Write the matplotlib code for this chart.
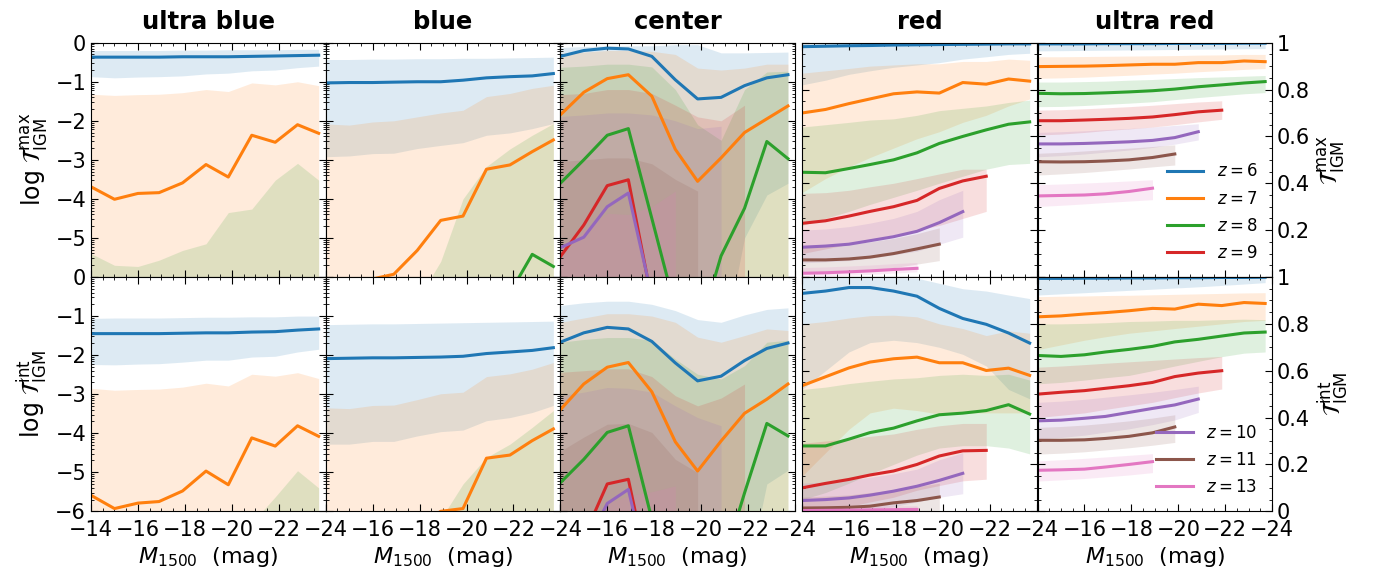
import numpy as np
import matplotlib
matplotlib.use("Agg")
import matplotlib.pyplot as plt
from matplotlib.ticker import FixedLocator, MultipleLocator, FuncFormatter

# magnitude bins (M1500)
M = [-14, -15, -16, -16.9, -17.9, -18.9, -19.85, -20.85, -21.85, -22.8, -23.7]
redshifts = [6, 7, 8, 9, 10, 11, 13]
colors = {6: "tab:blue", 7: "tab:orange", 8: "tab:green", 9: "tab:red",
          10: "tab:purple", 11: "tab:brown", 13: "tab:pink"}
titles = ["ultra blue", "blue", "center", "red", "ultra red"]

# each entry: (median, lower, upper)
ultra_blue_max = {
    6: ([-0.37, -0.37, -0.37, -0.37, -0.36, -0.36, -0.36, -0.35, -0.34, -0.33, -0.32],
        [-0.87, -0.9, -0.88, -0.87, -0.85, -0.8, -0.78, -0.72, -0.7, -0.64, -0.6],
        [-0.2, -0.2, -0.2, -0.2, -0.19, -0.19, -0.18, -0.18, -0.18, -0.17, -0.17]),
    7: ([-3.69, -4.01, -3.86, -3.84, -3.59, -3.12, -3.44, -2.37, -2.55, -2.1, -2.32],
        [-8] * 11,
        [-1.32, -1.35, -1.33, -1.32, -1.28, -1.2, -1.25, -1.03, -1.08, -1.0, -1.1]),
    8: ([-8] * 11, [-8] * 11,
        [-5.4, -5.7, -5.73, -5.57, -5.32, -5.15, -4.35, -4.26, -3.52, -3.09, -3.52]),
}
ultra_blue_int = {
    6: ([-1.45, -1.45, -1.45, -1.45, -1.44, -1.43, -1.43, -1.41, -1.40, -1.36, -1.33],
        [-2.24, -2.25, -2.23, -2.22, -2.18, -2.13, -2.13, -2.05, -2.03, -1.92, -1.85],
        [-1.06, -1.05, -1.05, -1.05, -1.04, -1.03, -1.03, -1.02, -1.02, -1.0, -1.0]),
    7: ([-5.59, -5.93, -5.79, -5.75, -5.48, -4.97, -5.32, -4.12, -4.33, -3.81, -4.08],
        [-8] * 11,
        [-2.85, -2.9, -2.88, -2.87, -2.82, -2.72, -2.79, -2.49, -2.54, -2.45, -2.6]),
    8: ([-8] * 11, [-8] * 11,
        [-7, -7, -7, -7, -7, -7, -7, -6.3, -5.63, -4.96, -5.4]),
}
blue_max = {
    6: ([-1.03, -1.02, -1.02, -1.01, -1.0, -1.0, -0.96, -0.9, -0.87, -0.85, -0.79],
        [-2.92, -2.9, -2.84, -2.83, -2.71, -2.63, -2.56, -2.37, -2.31, -2.2, -2.07],
        [-0.43, -0.43, -0.42, -0.42, -0.41, -0.41, -0.4, -0.4, -0.39, -0.38, -0.37]),
    7: ([-6.4, -6.3, -6.05, -5.93, -5.32, -4.55, -4.44, -3.24, -3.13, -2.79, -2.49],
        [-8] * 11,
        [-2.08, -2.11, -2.03, -2.0, -1.9, -1.8, -1.73, -1.38, -1.3, -1.17, -1.09]),
    8: ([-8, -8, -8, -8, -8, -8, -8, -7.5, -6.41, -5.42, -5.73],
        [-8] * 11,
        [-6.8, -6.8, -6.8, -6.8, -6.6, -5.6, -4.0, -3.17, -2.72, -2.37, -2.07]),
}
blue_int = {
    6: ([-2.09, -2.08, -2.07, -2.07, -2.06, -2.05, -2.03, -1.96, -1.92, -1.88, -1.81],
        [-4.28, -4.28, -4.21, -4.21, -4.07, -3.96, -3.92, -3.68, -3.6, -3.47, -3.29],
        [-1.22, -1.21, -1.2, -1.2, -1.19, -1.18, -1.17, -1.16, -1.15, -1.14, -1.13]),
    7: ([-7, -7, -7, -6.8, -6.4, -6.0, -5.93, -4.64, -4.56, -4.19, -3.89],
        [-8] * 11,
        [-3.35, -3.37, -3.29, -3.28, -3.14, -2.99, -2.95, -2.55, -2.48, -2.36, -2.19]),
    8: ([-8] * 11, [-8] * 11,
        [-7, -7, -7, -7, -7, -6.2, -5.3, -4.62, -4.28, -3.85, -3.42]),
}
center_max = {
    6: ([-0.35, -0.2, -0.14, -0.16, -0.35, -0.95, -1.44, -1.40, -1.10, -0.90, -0.82],
        [-8, -8, -8, -8, -8, -8, -8, -8, -5.0, -3.9, -3.6],
        [-0.12, -0.1, -0.08, -0.08, -0.08, -0.05, -0.05, -0.26, -0.26, -0.25, -0.24]),
    7: ([-1.85, -1.27, -0.92, -0.82, -1.37, -2.73, -3.55, -2.95, -2.3, -1.95, -1.62],
        [-8] * 11,
        [-0.27, -0.24, -0.2, -0.2, -0.22, -0.3, -0.65, -0.7, -0.65, -0.55, -0.55]),
    8: ([-3.6, -3.0, -2.37, -2.2, -4.5, -6.8, -7.5, -5.46, -4.24, -2.53, -2.97],
        [-8] * 11,
        [-0.63, -0.6, -0.55, -0.55, -0.62, -1.2, -2.1, -2.5, -1.2, -0.75, -0.73]),
    9: ([-5.48, -4.67, -3.66, -3.51, -6.6, -8, -8, -8, -8],
        [-8] * 9,
        [-1.33, -1.3, -1.2, -1.2, -1.3, -1.6, -1.9, -2.0, -1.6]),
    10: ([-5.25, -4.98, -4.2, -3.85, -6.5, -8, -8, -8],
         [-8] * 8,
         [-1.89, -1.85, -1.8, -1.8, -1.85, -2.0, -2.2, -2.14]),
    11: ([-8] * 7, [-8] * 7,
         [-3.04, -3.0, -2.95, -2.95, -3.1, -3.5, -3.8]),
    13: ([-8] * 6, [-8] * 6,
         [-5.5, -4.8, -4.37, -4.4, -4.2, -3.8]),
}
center_int = {
    6: ([-1.67, -1.43, -1.29, -1.33, -1.65, -2.2, -2.66, -2.54, -2.14, -1.83, -1.69],
        [-8, -8, -8, -8, -8, -8, -8, -8, -8, -5.3, -4.95],
        [-0.73, -0.66, -0.62, -0.62, -0.7, -0.86, -1.09, -1.16, -0.97, -0.83, -0.79]),
    7: ([-3.4, -2.74, -2.31, -2.19, -2.94, -4.22, -4.97, -4.2, -3.49, -3.13, -2.74],
        [-8] * 11,
        [-1.16, -1.05, -0.94, -0.94, -1.0, -1.16, -1.54, -1.67, -1.5, -1.33, -1.37]),
    8: ([-5.27, -4.67, -3.98, -3.81, -6.2, -7.5, -8, -7.5, -5.53, -3.75, -4.07],
        [-8] * 11,
        [-1.67, -1.6, -1.55, -1.55, -1.62, -2.1, -2.49, -2.61, -2.27, -1.67, -1.62]),
    9: ([-8, -6.66, -5.3, -5.18, -8, -8, -8, -8, -8],
        [-8] * 9,
        [-2.44, -2.4, -2.35, -2.35, -2.55, -3.04, -3.3, -3.1, -2.74]),
    10: ([-8, -7, -5.8, -5.44, -8, -8, -8, -8],
         [-8] * 8,
         [-3.04, -2.95, -2.83, -2.85, -2.95, -3.3, -3.6, -3.81]),
    11: ([-8] * 7, [-8] * 7,
         [-4.46, -4.1, -3.77, -3.75, -3.98, -4.67, -5.01]),
    13: ([-8] * 6, [-8] * 6,
         [-7, -6.5, -5.8, -5.6, -5.5, -5.35]),
}
red_max = {
    6: ([0.983, 0.985, 0.987, 0.988, 0.99, 0.991, 0.992, 0.993, 0.994, 0.995, 0.995],
        [0.82, 0.84, 0.865, 0.88, 0.895, 0.905, 0.915, 0.93, 0.94, 0.95, 0.955],
        [1.0] * 11),
    7: ([0.70, 0.715, 0.74, 0.76, 0.782, 0.79, 0.785, 0.83, 0.823, 0.845, 0.836],
        [0.36, 0.42, 0.47, 0.51, 0.55, 0.59, 0.62, 0.66, 0.69, 0.73, 0.76],
        [0.87, 0.88, 0.89, 0.9, 0.905, 0.91, 0.91, 0.92, 0.92, 0.93, 0.925]),
    8: ([0.447, 0.445, 0.463, 0.48, 0.50, 0.53, 0.57, 0.60, 0.628, 0.652, 0.662],
        [0.22, 0.25, 0.28, 0.31, 0.34, 0.37, 0.40, 0.43, 0.46, 0.48, 0.485],
        [0.64, 0.65, 0.66, 0.67, 0.675, 0.69, 0.71, 0.72, 0.73, 0.745, 0.755]),
    9: ([0.229, 0.24, 0.26, 0.28, 0.30, 0.327, 0.378, 0.41, 0.43],
        [0.10, 0.12, 0.14, 0.16, 0.18, 0.2, 0.22, 0.25, 0.28],
        [0.357, 0.36, 0.37, 0.385, 0.40, 0.42, 0.44, 0.46, 0.46]),
    10: ([0.127, 0.132, 0.14, 0.155, 0.172, 0.195, 0.232, 0.279],
         [0.06, 0.065, 0.07, 0.08, 0.095, 0.11, 0.14, 0.17],
         [0.2, 0.205, 0.215, 0.23, 0.25, 0.28, 0.33, 0.37]),
    11: ([0.073, 0.073, 0.077, 0.085, 0.10, 0.12, 0.14],
         [0.02, 0.02, 0.025, 0.03, 0.04, 0.055, 0.07],
         [0.13, 0.135, 0.14, 0.15, 0.165, 0.185, 0.21]),
    13: ([0.016, 0.018, 0.022, 0.026, 0.032, 0.037],
         [0.0, 0.003, 0.007, 0.011, 0.017, 0.022],
         [0.04, 0.043, 0.047, 0.051, 0.057, 0.062]),
}
red_int = {
    6: ([0.93, 0.94, 0.955, 0.955, 0.94, 0.918, 0.866, 0.823, 0.798, 0.761, 0.718],
        [0.52, 0.6, 0.68, 0.72, 0.73, 0.72, 0.70, 0.67, 0.62, 0.52, 0.48],
        [0.998, 0.998, 0.998, 0.998, 0.998, 0.995, 0.973, 0.95, 0.94, 0.923, 0.908]),
    7: ([0.536, 0.574, 0.612, 0.637, 0.651, 0.658, 0.634, 0.634, 0.601, 0.611, 0.58],
        [0.15, 0.25, 0.35, 0.42, 0.44, 0.43, 0.415, 0.42, 0.42, 0.42, 0.42],
        [0.80, 0.81, 0.825, 0.835, 0.837, 0.83, 0.80, 0.78, 0.75, 0.77, 0.76]),
    8: ([0.279, 0.279, 0.308, 0.336, 0.355, 0.386, 0.412, 0.419, 0.43, 0.455, 0.415],
        [0.05, 0.08, 0.12, 0.16, 0.2, 0.24, 0.27, 0.28, 0.28, 0.27, 0.245],
        [0.52, 0.53, 0.545, 0.555, 0.565, 0.57, 0.58, 0.585, 0.58, 0.585, 0.56]),
    9: ([0.10, 0.119, 0.136, 0.155, 0.172, 0.2, 0.236, 0.258, 0.26],
        [0.0, 0.01, 0.02, 0.04, 0.06, 0.09, 0.11, 0.13, 0.137],
        [0.29, 0.3, 0.31, 0.32, 0.33, 0.35, 0.365, 0.375, 0.375]),
    10: ([0.046, 0.05, 0.057, 0.069, 0.086, 0.107, 0.132, 0.162],
         [0.0, 0.0, 0.0, 0.01, 0.02, 0.04, 0.06, 0.075],
         [0.12, 0.125, 0.135, 0.145, 0.16, 0.18, 0.22, 0.25]),
    11: ([0.014, 0.015, 0.017, 0.022, 0.036, 0.046, 0.061],
         [0.0, 0.0, 0.0, 0.0, 0.0, 0.0, 0.005],
         [0.06, 0.065, 0.07, 0.08, 0.09, 0.105, 0.12]),
    13: ([0.003, 0.004, 0.005, 0.006, 0.007, 0.008],
         [0.0] * 6,
         [0.02, 0.02, 0.021, 0.022, 0.023, 0.024]),
}
ultra_red_max = {
    6: ([0.995, 0.995, 0.995, 0.996, 0.996, 0.996, 0.997, 0.997, 0.997, 0.998, 0.998],
        [0.965, 0.966, 0.967, 0.968, 0.969, 0.97, 0.971, 0.972, 0.973, 0.974, 0.975],
        [1.0] * 11),
    7: ([0.898, 0.899, 0.9, 0.902, 0.905, 0.908, 0.908, 0.915, 0.915, 0.922, 0.919],
        [0.848, 0.85, 0.853, 0.857, 0.861, 0.866, 0.87, 0.876, 0.881, 0.886, 0.89],
        [0.94, 0.94, 0.941, 0.942, 0.943, 0.944, 0.945, 0.947, 0.948, 0.95, 0.95]),
    8: ([0.784, 0.782, 0.783, 0.786, 0.79, 0.795, 0.802, 0.812, 0.82, 0.828, 0.834],
        [0.727, 0.728, 0.732, 0.737, 0.742, 0.748, 0.757, 0.766, 0.774, 0.782, 0.787],
        [0.832, 0.832, 0.834, 0.836, 0.84, 0.843, 0.847, 0.851, 0.854, 0.857, 0.86]),
    9: ([0.667, 0.667, 0.67, 0.673, 0.677, 0.683, 0.693, 0.705, 0.712],
        [0.606, 0.61, 0.617, 0.625, 0.632, 0.64, 0.65, 0.662, 0.673],
        [0.712, 0.714, 0.718, 0.722, 0.727, 0.733, 0.74, 0.747, 0.752]),
    10: ([0.568, 0.568, 0.57, 0.573, 0.577, 0.583, 0.595, 0.62],
         [0.513, 0.518, 0.525, 0.533, 0.542, 0.553, 0.567, 0.585],
         [0.617, 0.62, 0.624, 0.629, 0.634, 0.64, 0.647, 0.654]),
    11: ([0.492, 0.491, 0.492, 0.495, 0.5, 0.51, 0.525],
         [0.435, 0.44, 0.446, 0.453, 0.461, 0.47, 0.478],
         [0.528, 0.532, 0.538, 0.544, 0.55, 0.557, 0.564]),
    13: ([0.346, 0.348, 0.35, 0.355, 0.365, 0.379],
         [0.301, 0.306, 0.312, 0.318, 0.324, 0.33],
         [0.394, 0.397, 0.401, 0.405, 0.41, 0.415]),
}
ultra_red_int = {
    6: ([0.994, 0.994, 0.995, 0.995, 0.996, 0.996, 0.997, 0.997, 0.998, 0.998, 0.999],
        [0.923, 0.928, 0.933, 0.938, 0.943, 0.948, 0.953, 0.958, 0.964, 0.97, 0.976],
        [1.0] * 11),
    7: ([0.83, 0.834, 0.842, 0.848, 0.856, 0.866, 0.863, 0.884, 0.878, 0.891, 0.887],
        [0.69, 0.71, 0.73, 0.745, 0.76, 0.77, 0.78, 0.79, 0.8, 0.81, 0.815],
        [0.916, 0.918, 0.919, 0.921, 0.922, 0.924, 0.926, 0.928, 0.93, 0.932, 0.933]),
    8: ([0.665, 0.661, 0.668, 0.68, 0.691, 0.704, 0.723, 0.734, 0.748, 0.761, 0.765],
        [0.544, 0.55, 0.56, 0.57, 0.58, 0.6, 0.62, 0.64, 0.66, 0.675, 0.68],
        [0.80, 0.80, 0.802, 0.805, 0.81, 0.812, 0.815, 0.815, 0.818, 0.82, 0.818]),
    9: ([0.50, 0.508, 0.515, 0.525, 0.536, 0.55, 0.575, 0.59, 0.6],
        [0.40, 0.41, 0.42, 0.435, 0.45, 0.465, 0.485, 0.505, 0.522],
        [0.615, 0.62, 0.626, 0.632, 0.638, 0.644, 0.65, 0.656, 0.661]),
    10: ([0.386, 0.389, 0.397, 0.405, 0.422, 0.439, 0.454, 0.479],
         [0.308, 0.315, 0.325, 0.338, 0.352, 0.37, 0.39, 0.422],
         [0.465, 0.47, 0.478, 0.487, 0.497, 0.508, 0.52, 0.534]),
    11: ([0.303, 0.303, 0.305, 0.311, 0.32, 0.335, 0.36],
         [0.244, 0.248, 0.254, 0.262, 0.271, 0.282, 0.294],
         [0.358, 0.362, 0.368, 0.376, 0.386, 0.398, 0.412]),
    13: ([0.175, 0.177, 0.18, 0.189, 0.2, 0.212],
         [0.129, 0.134, 0.14, 0.147, 0.155, 0.165],
         [0.215, 0.22, 0.226, 0.232, 0.239, 0.246]),
}

top_row = [ultra_blue_max, blue_max, center_max, red_max, ultra_red_max]
bottom_row = [ultra_blue_int, blue_int, center_int, red_int, ultra_red_int]

plt.rcParams["font.size"] = 15
plt.rcParams["mathtext.fontset"] = "dejavusans"

fig = plt.figure(figsize=(13.81, 5.77), dpi=100)
W, H = 1381.0, 577.0
lefts = [91, 325.7, 560.3, 802, 1037.5]
width = 234.7
tops = [42.7, 277]
height = 234.3

log_minor = [n + np.log10(k / 10.0) for n in range(0, -7, -1) for k in range(2, 10)]


def minus(s):
    return s.replace("-", "\u2212")


for row, panels in enumerate([top_row, bottom_row]):
    for col, data in enumerate(panels):
        rect = [lefts[col] / W, 1 - (tops[row] + height) / H, width / W, height / H]
        ax = fig.add_axes(rect)
        for z in redshifts:
            if z not in data:
                continue
            med, lo, hi = data[z]
            x = M[:len(med)]
            ax.fill_between(x, lo, hi, color=colors[z], alpha=0.15, lw=0)
        for z in redshifts:
            if z not in data:
                continue
            med, lo, hi = data[z]
            x = M[:len(med)]
            ax.plot(x, med, color=colors[z], lw=2.2, label=rf"$z={z}$")

        ax.set_xlim(-14, -24)
        ax.xaxis.set_major_locator(MultipleLocator(2))
        ax.xaxis.set_minor_locator(MultipleLocator(0.5))
        first = col == 0
        ax.xaxis.set_major_formatter(FuncFormatter(
            lambda v, p, first=first: "" if (v > -14.5 and not first) else minus(f"{v:g}")))
        ax.tick_params(which="both", direction="in", top=True, right=True,
                       bottom=True, left=True)
        ax.tick_params(which="major", length=5, labelsize=15)
        ax.tick_params(which="minor", length=2.5)
        ax.tick_params(axis="x", which="major", pad=6)

        if col < 3:
            ax.set_ylim(-6, 0)
            ax.yaxis.set_major_locator(MultipleLocator(1))
            ax.yaxis.set_minor_locator(FixedLocator(log_minor))
            ax.yaxis.set_major_formatter(FuncFormatter(
                lambda v, p, row=row: "" if (row == 0 and v < -5.5) else minus(f"{v:g}")))
            if col != 0:
                ax.tick_params(labelleft=False)
        else:
            ax.set_ylim(0, 1)
            ax.yaxis.set_major_locator(MultipleLocator(0.2))
            ax.yaxis.set_minor_locator(MultipleLocator(0.05))
            ax.yaxis.set_major_formatter(FuncFormatter(
                lambda v, p, row=row: "" if (row == 0 and v < 0.05) else f"{v:g}"))
            ax.tick_params(labelleft=False)
            if col == 4:
                ax.tick_params(labelright=True)

        if row == 0:
            ax.set_title(titles[col], fontweight="bold", fontsize=17.5, pad=10)
            ax.tick_params(labelbottom=False)
        else:
            ax.set_xlabel(r"$M_{1500}$  (mag)", fontsize=16)

        kind = "max" if row == 0 else "int"
        if col == 0:
            ax.set_ylabel(r"log $\mathcal{T}_{\rm IGM}^{\rm " + kind + "}$", fontsize=17)
        if col == 4:
            ax.yaxis.set_label_position("right")
            ax.set_ylabel(r"$\mathcal{T}_{\rm IGM}^{\rm " + kind + "}$", fontsize=17)
            handles, labels = ax.get_legend_handles_labels()
            zs = [6, 7, 8, 9] if row == 0 else [10, 11, 13]
            sel = [i for i, l in enumerate(labels) if int(l.strip("$").split("=")[1]) in zs]
            ax.legend([handles[i] for i in sel], [labels[i] for i in sel],
                      loc="lower right", frameon=False, fontsize=12,
                      handlelength=2.2, labelspacing=0.55)

fig.savefig("out.png", dpi=100)
